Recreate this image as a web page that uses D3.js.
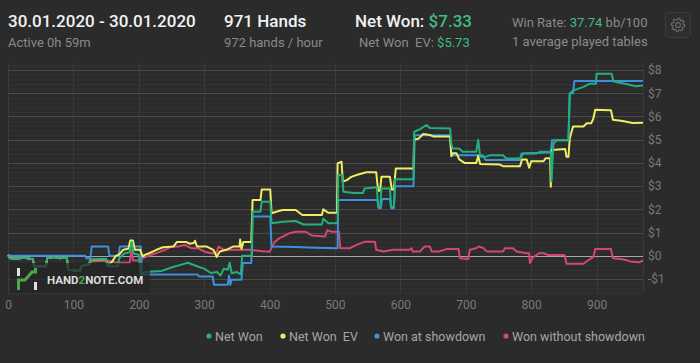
<!DOCTYPE html>
<html>
<head>
<meta charset="utf-8">
<script src="https://cdn.jsdelivr.net/npm/d3@7"></script>
<style>
  body { margin: 0; background: #2b2b2b; }
  svg { display: block; font-family: Roboto, "Open Sans", sans-serif; }
</style>
</head>
<body>
<svg id="chart" width="700" height="363"></svg>
<script>
// hands played vs. dollars
const netWon = [[0,0.05],[3,-0.1],[15,-0.12],[25,-0.08],[38,-0.15],[40,-0.45],[58,-0.45],[60,-0.1],[70,-0.05],[80,-0.1],[90,-0.05],[92,-0.6],[110,-0.65],[112,-0.45],[118,-0.4],[124,-0.35],[126,-0.17],[150,-0.15],[152,-0.45],[168,-0.45],[170,-0.1],[178,0.1],[186,0.15],[189,0.6],[192,0.1],[200,0.05],[203,-0.8],[210,-0.7],[235,-0.65],[250,-0.5],[265,-0.38],[275,-0.3],[290,-0.46],[300,-0.55],[310,-0.74],[320,-0.7],[325,-0.85],[330,-0.55],[336,-0.6],[339,-0.3],[342,-0.75],[350,-0.7],[356,-0.8],[358,0],[373,0],[374,1.9],[386,1.9],[388,2.33],[401,2.33],[403,1.4],[420,1.47],[440,1.5],[452,1.35],[480,1.35],[482,1.6],[490,1.4],[504,1.4],[505,3.48],[511,3.48],[513,2.76],[528,2.7],[543,2.7],[545,2.9],[564,2.95],[566,2.1],[569,2.1],[571,2.9],[584,2.9],[586,2.1],[590,2.1],[592,3.3],[620,3.3],[621,5.33],[630,5.45],[640,5.63],[645,5.5],[676,5.48],[678,4.8],[680,4.62],[690,4.62],[695,4.48],[716,4.48],[719,5.0],[722,4.26],[730,4.26],[737,4.33],[757,4.33],[762,4.19],[783,4.19],[788,4.4],[808,4.4],[813,4.48],[830,4.48],[831,3.2],[834,4.83],[839,4.98],[857,4.98],[859,7.0],[865,7.12],[880,7.27],[890,7.41],[899,7.41],[900,7.84],[923,7.84],[926,7.5],[945,7.4],[960,7.3],[971,7.33]];
const netWonEV = [[0,0.05],[3,-0.1],[15,-0.12],[25,-0.08],[38,-0.15],[40,-0.45],[58,-0.45],[60,-0.1],[70,-0.05],[80,-0.1],[90,-0.05],[92,-0.6],[110,-0.65],[112,-0.45],[118,-0.4],[124,-0.35],[126,-0.17],[150,-0.15],[152,-0.35],[158,-0.3],[165,0.0],[170,0.05],[176,0.26],[184,0.3],[187,0.66],[191,0.66],[194,0.26],[202,0.26],[206,-0.02],[210,0.05],[215,0.1],[227,0.26],[237,0.37],[253,0.4],[258,0.59],[273,0.59],[278,0.52],[284,0.55],[286,0.65],[289,0.4],[304,0.4],[314,0.26],[317,0.1],[319,-0.05],[322,0.1],[324,0.19],[334,0.26],[344,0.4],[354,0.4],[355,0.7],[357,0.3],[360,0.6],[372,0.6],[374,2.4],[386,2.4],[388,2.86],[401,2.86],[403,1.83],[410,1.9],[420,1.97],[440,1.97],[450,1.76],[480,1.76],[482,2.0],[490,1.85],[503,1.85],[504,3.98],[510,4.05],[512,3.2],[518,3.26],[525,3.4],[533,3.48],[548,3.6],[563,3.6],[566,2.8],[569,2.8],[571,3.4],[584,3.4],[587,2.85],[590,2.85],[593,3.76],[620,3.76],[621,5.0],[628,5.05],[635,5.24],[645,5.2],[650,5.14],[676,5.14],[678,4.29],[680,4.41],[686,4.41],[690,4.15],[698,4.0],[716,4.0],[719,4.3],[722,3.95],[752,3.93],[757,3.86],[783,3.86],[786,4.15],[793,4.15],[797,3.79],[800,4.07],[819,4.07],[822,4.2],[829,4.2],[830,2.97],[832,4.55],[852,4.6],[854,4.26],[857,4.26],[859,5.05],[864,5.57],[880,5.57],[885,5.71],[892,5.71],[895,5.9],[898,6.29],[922,6.27],[925,5.86],[940,5.8],[955,5.72],[971,5.73]];
const wonShowdown = [[0,0],[118,0],[120,-0.1],[126,-0.1],[128,0.4],[153,0.4],[155,0.0],[169,0.0],[171,0.4],[203,0.4],[205,-0.8],[290,-0.8],[292,-0.89],[313,-0.89],[315,-1.24],[336,-1.24],[338,-0.85],[340,-1.25],[342,-1.03],[357,-1.03],[359,-0.31],[372,-0.31],[374,1.69],[401,1.69],[403,0.4],[440,0.38],[470,0.35],[504,0.33],[505,2.4],[565,2.4],[567,2.05],[570,2.05],[572,2.45],[584,2.45],[586,2.05],[590,2.05],[592,3.0],[620,3.0],[622,5.19],[676,5.19],[678,4.33],[726,4.33],[730,4.13],[783,4.13],[785,4.4],[830,4.45],[832,4.98],[857,4.98],[859,7.0],[864,7.0],[866,7.53],[971,7.53]];
const wonNoShowdown = [[0,0.05],[3,-0.1],[15,-0.12],[25,-0.08],[38,-0.15],[40,-0.45],[58,-0.45],[60,-0.1],[70,-0.05],[80,-0.1],[90,-0.05],[92,-0.6],[110,-0.65],[112,-0.45],[118,-0.4],[124,-0.39],[127,-0.24],[150,-0.2],[160,-0.24],[165,-0.3],[186,-0.3],[189,0.25],[191,-0.2],[203,-0.2],[206,-0.1],[215,0.0],[230,0.15],[240,0.26],[250,0.4],[260,0.4],[270,0.47],[280,0.33],[290,0.33],[300,0.19],[310,0.11],[318,0.11],[322,0.4],[330,0.26],[370,0.26],[390,0.2],[400,0.18],[408,0.6],[415,0.76],[430,0.97],[440,1.04],[455,1.04],[465,0.87],[485,0.83],[488,1.1],[495,1.04],[506,1.04],[508,0.33],[523,0.33],[533,0.47],[546,0.61],[561,0.61],[563,0.26],[574,0.19],[589,0.26],[614,0.26],[617,0.33],[619,0.19],[630,0.19],[637,0.4],[645,0.4],[648,0.19],[660,0.19],[670,0.29],[689,0.29],[691,-0.1],[704,-0.14],[706,0.26],[716,0.33],[720,0.4],[727,0.33],[732,0.19],[757,0.19],[760,0.33],[772,0.33],[778,0.19],[793,0.11],[797,0.11],[798,-0.31],[803,-0.06],[812,0.11],[819,0.11],[825,0.04],[851,0.04],[854,-0.34],[880,-0.34],[888,-0.17],[895,-0.06],[898,0.29],[922,0.29],[925,-0.1],[940,-0.15],[952,-0.24],[965,-0.28],[971,-0.2]];

const seriesNames = ["Net Won", "Net Won  EV", "Won at showdown", "Won without showdown"];
const seriesColors = ["#22b07c", "#eeee62", "#3f8fe0", "#d5457a"];
const yTicks = [-1, 0, 1, 2, 3, 4, 5, 6, 7, 8];
const xTicks = [0, 100, 200, 300, 400, 500, 600, 700, 800, 900];

const svg = d3.select("#chart");
const x = d3.scaleLinear().domain([0, 971]).range([8, 643]);
const y = d3.scaleLinear().domain([-1.6, 8.3]).range([293, 63]);

// header
function headerText(px, py, size, parts, weight) {
  const t = svg.append("text").attr("x", px).attr("y", py)
    .style("font-size", size + "px").style("font-weight", weight || 400);
  parts.forEach(p => t.append("tspan").attr("fill", p[1]).text(p[0]));
}
headerText(8, 27, 17, [["30.01.2020 - 30.01.2020", "#f2f2f2"]], 500);
headerText(8, 47, 13, [["Active 0h 59m", "#8a8a8a"]]);
headerText(224, 27, 17, [["971 Hands", "#f2f2f2"]], 500);
headerText(224, 47, 13, [["972 hands / hour", "#8a8a8a"]]);
headerText(355, 27, 17, [["Net Won: ", "#f2f2f2"], ["$7.33", "#3dbd80"]], 500);
headerText(359, 47, 13, [["Net Won\u00a0\u00a0EV: ", "#8a8a8a"], ["$5.73", "#3dbd80"]]);
headerText(512, 27, 13, [["Win Rate: ", "#8a8a8a"], ["37.74", "#3dbd80"], [" bb/100", "#8a8a8a"]]);
headerText(512, 46, 13, [["1 average played tables", "#8a8a8a"]]);

// settings button
svg.append("rect").attr("x", 665.5).attr("y", 12.5).attr("width", 25).attr("height", 25)
  .attr("rx", 3).attr("fill", "#2e2e2e").attr("stroke", "#3d3d3d");
const gear = [];
for (let i = 0; i < 48; i++) {
  const a = i / 48 * 2 * Math.PI;
  const r = (Math.floor(i / 3) % 2 === 0) ? 6.8 : 5.2;
  gear.push([678 + r * Math.cos(a), 25 + r * Math.sin(a)]);
}
svg.append("path").attr("d", d3.line()(gear) + "Z").attr("fill", "none").attr("stroke", "#6e6e6e").attr("stroke-width", 1.1);
svg.append("circle").attr("cx", 678).attr("cy", 25).attr("r", 2.4).attr("fill", "none").attr("stroke", "#6e6e6e").attr("stroke-width", 1.1);

// grid
const grid = svg.append("g");
grid.selectAll(".minor").data(d3.range(-8, 42).map(d => d / 5)).enter().append("line")
  .attr("x1", x(0)).attr("x2", x(971))
  .attr("y1", d => y(d) + 0.5).attr("y2", d => y(d) + 0.5)
  .attr("stroke", "#343434");
grid.selectAll(".vert").data(xTicks.concat([971])).enter().append("line")
  .attr("x1", d => Math.round(x(d)) + 0.5).attr("x2", d => Math.round(x(d)) + 0.5)
  .attr("y1", y(8.3)).attr("y2", y(-1.6))
  .attr("stroke", "#393939");
grid.selectAll(".major").data(yTicks).enter().append("line")
  .attr("x1", x(0)).attr("x2", x(971))
  .attr("y1", d => Math.round(y(d)) + 0.5).attr("y2", d => Math.round(y(d)) + 0.5)
  .attr("stroke", d => d === 0 ? "#a8a8a8" : "#4a4a4a");

// lines
const line = d3.line().x(d => x(d[0])).y(d => y(d[1]));
const drawOrder = [[wonNoShowdown, 3], [wonShowdown, 2], [netWonEV, 1], [netWon, 0]];
drawOrder.forEach(s => {
  svg.append("path").datum(s[0]).attr("d", line)
    .attr("fill", "none").attr("stroke", seriesColors[s[1]])
    .attr("stroke-width", 2).attr("stroke-linejoin", "round");
});

// watermark
const logo = svg.append("g").attr("transform", "translate(10,263)");
logo.append("rect").attr("width", 140).attr("height", 30).attr("fill", "rgba(36,36,36,0.72)");
logo.append("path").attr("d", "M8.5,27V17H15L22,9H25.5V5").attr("fill", "none")
  .attr("stroke", "#4da84a").attr("stroke-width", 3);
logo.append("rect").attr("x", 7).attr("y", 5).attr("width", 3).attr("height", 8).attr("fill", "#e0e0e0");
logo.append("rect").attr("x", 24).attr("y", 19).attr("width", 3).attr("height", 8).attr("fill", "#e0e0e0");
const lt = logo.append("text").attr("x", 37).attr("y", 21).style("font-size", "11.5px").style("font-weight", 700);
lt.append("tspan").attr("fill", "#dcdcdc").text("HAND");
lt.append("tspan").attr("fill", "#4da84a").text("2");
lt.append("tspan").attr("fill", "#dcdcdc").text("NOTE.COM");

// axes
const yAxis = svg.append("g").attr("transform", "translate(643,0)")
  .call(d3.axisRight(y).tickValues(yTicks).tickSize(0).tickPadding(5)
    .tickFormat(d => (d < 0 ? "-$" : "$") + Math.abs(d)));
const xAxis = svg.append("g").attr("transform", "translate(0,293)")
  .call(d3.axisBottom(x).tickValues(xTicks).tickSize(0).tickPadding(7));
[yAxis, xAxis].forEach(a => {
  a.select(".domain").remove();
  a.selectAll("text").attr("fill", "#7a7a7a").style("font-size", "12px").style("font-family", "Roboto, sans-serif");
});

// legend
const legendX = [209, 283, 377, 506];
seriesNames.forEach((n, i) => {
  svg.append("circle").attr("cx", legendX[i]).attr("cy", 336).attr("r", 2.6).attr("fill", seriesColors[i]);
  svg.append("text").attr("x", legendX[i] + 6).attr("y", 340.5)
    .attr("fill", "#a6a6a6").style("font-size", "12.5px")
    .text(n.replace("  ", "\u00a0\u00a0"));
});
</script>
</body>
</html>
